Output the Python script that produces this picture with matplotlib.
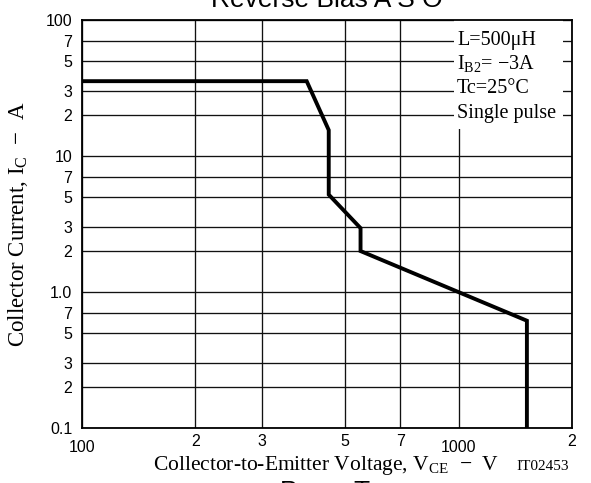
import numpy as np
import matplotlib
matplotlib.use("Agg")
import matplotlib.pyplot as plt
from matplotlib.patches import Rectangle
from matplotlib.ticker import FixedLocator, FixedFormatter

# Datos de la curva
vce = [100, 395, 452, 452, 549, 549, 1518, 1518]
ic = [35.5, 35.5, 15.5, 5.2, 2.95, 2.0, 0.615, 0.1]

x_major = [100, 1000]
x_major_labels = ["100", "1000"]
x_minor = [200, 300, 500, 700, 2000]
x_minor_labels = ["2", "3", "5", "7", "2"]

y_major = [0.1, 1, 10, 100]
y_major_labels = ["0.1", "1.0", "10", "100"]
y_minor = [2, 3, 5, 7]

condiciones = ["L=500\u03bcH", "I$_{\\mathregular{B2}}$= \u22123A", "Tc=25\u00b0C", "Single pulse"]

serif = "Liberation Serif"
sans = "Liberation Sans"

W, H = 591, 483
L, R, T, B = 82, 572, 20, 428

fig = plt.figure(figsize=(W / 100, H / 100), dpi=100)
ax = fig.add_axes([L / W, 1 - B / H, (R - L) / W, (B - T) / H])

ax.set_xscale("log")
ax.set_yscale("log")
ax.set_xlim(100, 2000)
ax.set_ylim(0.1, 100)

ax.plot(vce, ic, color="black", lw=2.8, solid_joinstyle="miter", zorder=3)

# Ticks
ax.xaxis.set_major_locator(FixedLocator(x_major))
ax.xaxis.set_major_formatter(FixedFormatter(x_major_labels))
ax.xaxis.set_minor_locator(FixedLocator(x_minor))
ax.xaxis.set_minor_formatter(FixedFormatter(x_minor_labels))

y_minor_all = [d * m for d in [0.1, 1, 10] for m in y_minor]
ax.yaxis.set_major_locator(FixedLocator(y_major))
ax.yaxis.set_major_formatter(FixedFormatter(y_major_labels))
ax.yaxis.set_minor_locator(FixedLocator(y_minor_all))
ax.yaxis.set_minor_formatter(FixedFormatter([str(m) for m in y_minor] * 3))

ax.tick_params(which="both", length=0, labelsize=11.5)
ax.tick_params(axis="x", which="major", pad=9)
ax.tick_params(axis="x", which="minor", pad=4)
ax.tick_params(axis="y", which="both", pad=7)
for lab in ax.get_xticklabels(which="both") + ax.get_yticklabels(which="both"):
    lab.set_family(sans)

ax.set_axisbelow(True)
ax.grid(True, which="both", color="#111111", lw=0.95)
for s in ax.spines.values():
    s.set_linewidth(1.3)

# Caja de condiciones
def ax_x(px):
    return (px - L) / (R - L)

def ax_y(py):
    return (B - py) / (B - T)

ax.add_patch(Rectangle((ax_x(454), ax_y(129)), ax_x(563) - ax_x(454), 1,
                       transform=ax.transAxes, facecolor="white",
                       edgecolor="none", zorder=1))
ys = [41, 64, 89, 114]
for txt, yy in zip(condiciones, ys):
    ax.text(ax_x(457), ax_y(yy), txt, transform=ax.transAxes,
            family=serif, fontsize=14.5, va="center", ha="left", zorder=2)

ax.set_xlabel("Collector-to-Emitter Voltage, V$_{\\mathregular{CE}}$  \u2212  V",
              family=serif, fontsize=15.5)
ax.set_ylabel("Collector Current, I$_{\\mathregular{C}}$  \u2212  A",
              family=serif, fontsize=16.5)
ax.xaxis.set_label_coords(ax_x(326), ax_y(470))
ax.xaxis.label.set_va("baseline")
ax.yaxis.set_label_coords(ax_x(18), ax_y(224))
ax.yaxis.label.set_va("center")

fig.text(327 / W, 1 - 7 / H, "Reverse Bias A S O", family=sans, fontsize=19,
         ha="center", va="baseline")
fig.text(543 / W, 1 - 470 / H, "IT02453", family=serif, fontsize=11,
         ha="center", va="baseline")
fig.text(330 / W, 1 - 499 / H, "P$_{\\mathregular{C}}$  \u2013  T$_{\\mathregular{c}}$",
         family=sans, fontsize=19, ha="center", va="baseline")

fig.savefig("out.png", dpi=100)
